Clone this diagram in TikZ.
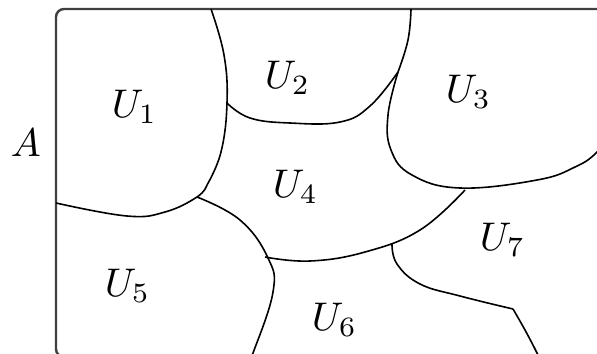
\documentclass[tikz,border=0pt]{standalone}
\begin{document}
\begin{tikzpicture}[x=0.25pt,y=-0.25pt,
  frame/.style={line width=0.6pt,draw=black!75,rounded corners=2pt},
  bound/.style={line width=0.4pt,draw=black},
  lab/.style={anchor=base west,inner sep=0pt}]
\useasboundingbox (0,0) rectangle (597,353);
\clip (0,0) rectangle (597,353);
\draw[frame] (56,9) rectangle (660,357);
% U1 boundary
\draw[bound] plot[smooth,tension=0.7] coordinates {(211,9) (224,55) (227,103) (221,152) (207,185)};
\draw[bound] plot[smooth,tension=0.7] coordinates {(207,185) (197,197) (165,212) (127,216) (56,203)};
% U4/U5
\draw[bound] plot[smooth,tension=0.7] coordinates {(197,197) (240,220) (268,258) (273,292) (253,353) (246,366)};
% U2 bottom
\draw[bound] plot[smooth,tension=0.7] coordinates {(227,103) (250,118) (290,123) (340,122) (370,106) (398,72)};
% U2/U3 top
\draw[bound] plot[smooth,tension=0.7] coordinates {(411,9) (408,40) (398,72)};
% U3
\draw[bound] plot[smooth,tension=0.7] coordinates {(398,72) (388,115) (391,150) (412,175) (460,188) (537,180) (575,167) (597,152) (612,130)};
% U4 bottom
\draw[bound] plot[smooth,tension=0.7] coordinates {(265,257) (310,261) (365,252) (420,230) (465,190)};
% U6/U7
\draw[bound] plot[smooth,tension=0.7] coordinates {(392,244) (397,264) (420,284) (460,296) (513,309)};
\draw[bound] plot[smooth,tension=0.7] coordinates {(513,309) (525,330) (537,353) (544,368)};
% labels
\node[lab] (a) at (10,156) {$A$};
\node[lab] (u1) at (111,117) {$U_1$};
\node[lab] (u2) at (264,88) {$U_2$};
\node[lab] (u3) at (445,102) {$U_3$};
\node[lab] (u4) at (272,197) {$U_4$};
\node[lab] (u5) at (104,296) {$U_5$};
\node[lab] (u6) at (311,330) {$U_6$};
\node[lab] (u7) at (479,250) {$U_7$};
\end{tikzpicture}
\end{document}
